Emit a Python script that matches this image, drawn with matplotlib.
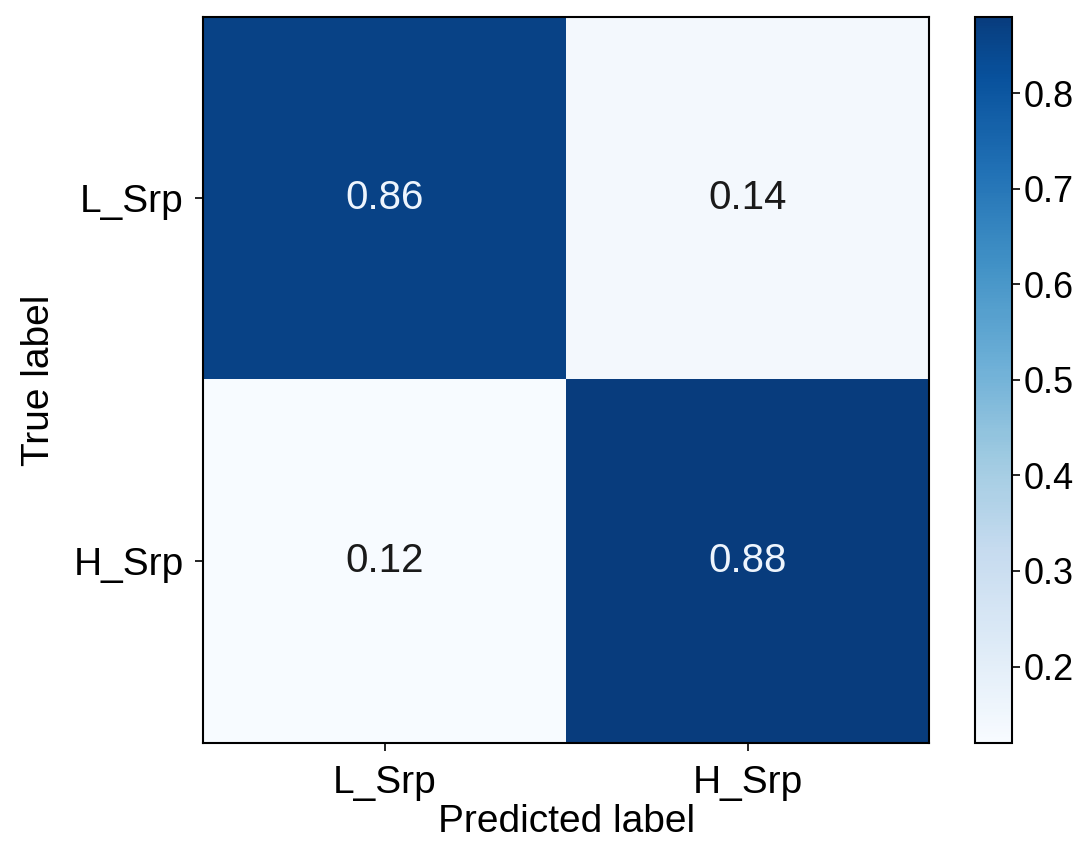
import matplotlib
matplotlib.use("Agg")
import matplotlib.pyplot as plt
from matplotlib.colors import LinearSegmentedColormap
import numpy as np

plt.rcParams['font.family'] = ['Liberation Sans', 'DejaVu Sans']

classes = ["L_Srp", "H_Srp"]
cm = np.array([[0.86, 0.14],
               [0.12, 0.88]])
cbar_ticks = [0.2, 0.3, 0.4, 0.5, 0.6, 0.7, 0.8]

fig = plt.figure(figsize=(10.92, 8.51), dpi=100)
ax = fig.add_axes([0.186, 0.127, 0.665, 0.853])
cax = fig.add_axes([0.893, 0.127, 0.034, 0.853])

# Blues, slightly trimmed at the dark end
base = plt.get_cmap("Blues")
cmap = LinearSegmentedColormap.from_list("blues_t", base(np.linspace(0, 0.95, 256)))
im = ax.imshow(cm, cmap=cmap, vmin=cm.min(), vmax=cm.max(), aspect="auto")

thresh = (cm.max() + cm.min()) / 2
for i in range(cm.shape[0]):
    for j in range(cm.shape[1]):
        c = "#eef5fd" if cm[i, j] > thresh else "#1a1a1a"
        ax.text(j, i, f"{cm[i, j]:.2f}", ha="center", va="center",
                color=c, fontsize=29)

ax.set_xticks(range(len(classes)))
ax.set_yticks(range(len(classes)))
ax.set_xticklabels(classes, fontsize=28)
ax.set_yticklabels(classes, fontsize=28)
ax.set_xlabel("Predicted label", fontsize=28, labelpad=2)
ax.set_ylabel("True label", fontsize=28, labelpad=12)
ax.tick_params(axis="x", length=6, width=1.2, pad=10)
ax.tick_params(axis="y", length=6, width=1.2, pad=8)
for s in ax.spines.values():
    s.set_linewidth(1.5)

cb = fig.colorbar(im, cax=cax)
cb.set_ticks(cbar_ticks)
cb.ax.tick_params(labelsize=26, length=6, width=1.2, pad=2)
cb.outline.set_linewidth(1.5)

fig.savefig("out.png", dpi=100)
